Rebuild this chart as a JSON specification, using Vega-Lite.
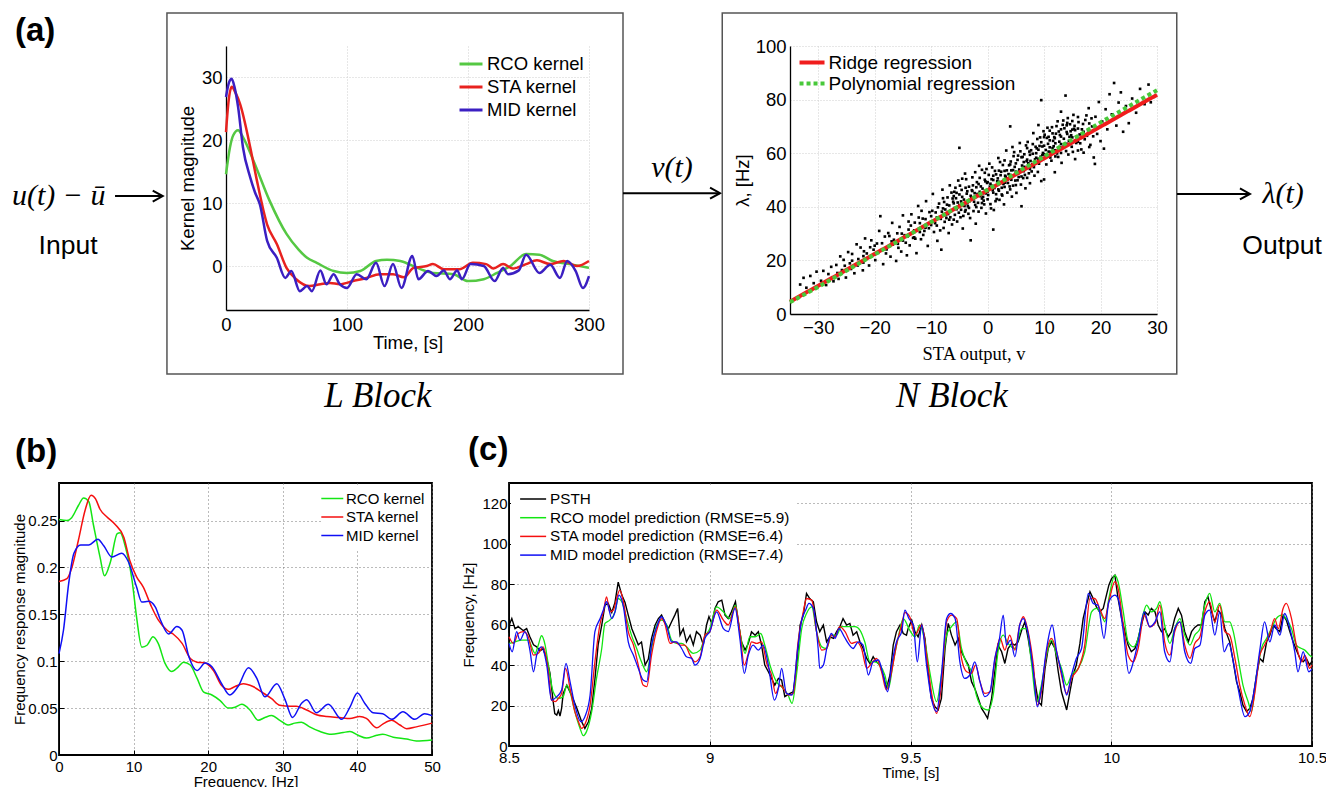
{
"$schema":"https://vega.github.io/schema/vega-lite/v6.json",
"background":"white",
"padding":{"left":0,"top":12,"right":0,"bottom":0},
"spacing":19,
"resolve":{"scale":{"x":"independent","y":"independent","color":"independent","strokeDash":"independent"},"legend":{"color":"independent","strokeDash":"independent"}},
"config":{
 "font":"Liberation Sans",
 "view":{"stroke":null},
 "axis":{"labelFont":"Liberation Sans","titleFont":"Liberation Sans","labelColor":"#000","titleColor":"#000","titleFontWeight":"normal","ticks":false,"labelFlush":false,"labelOverlap":false,"domainColor":"#000"},
 "legend":{"labelFont":"Liberation Sans","labelColor":"#000","labelLimit":500},
 "text":{"color":"#000"}
},
"datasets":{
 "lk":[
  {"k":"RCO","t":0,"m":14.6},{"k":"RCO","t":3.3,"m":18.9},{"k":"RCO","t":6,"m":20.8},{"k":"RCO","t":10,"m":21.6},{"k":"RCO","t":14,"m":20.5},{"k":"RCO","t":22.6,"m":16.8},{"k":"RCO","t":36,"m":10.4},{"k":"RCO","t":50,"m":5.1},{"k":"RCO","t":60,"m":2.6},{"k":"RCO","t":67,"m":1.3},{"k":"RCO","t":75,"m":0.5},{"k":"RCO","t":89,"m":-0.8},{"k":"RCO","t":100,"m":-1.1},{"k":"RCO","t":111,"m":-0.8},{"k":"RCO","t":124,"m":0.8},{"k":"RCO","t":133,"m":1.0},{"k":"RCO","t":144,"m":0.8},{"k":"RCO","t":158,"m":-0.3},{"k":"RCO","t":171,"m":-1.1},{"k":"RCO","t":188,"m":-1.3},{"k":"RCO","t":200,"m":-2.4},{"k":"RCO","t":213,"m":-2.1},{"k":"RCO","t":224,"m":-1.1},{"k":"RCO","t":235,"m":0},{"k":"RCO","t":248,"m":1.9},{"k":"RCO","t":259,"m":1.8},{"k":"RCO","t":270,"m":0.8},{"k":"RCO","t":284,"m":0.3},{"k":"RCO","t":300,"m":-0.3},
  {"k":"STA","t":0,"m":21.3},{"k":"STA","t":2,"m":26},{"k":"STA","t":4.7,"m":28.5},{"k":"STA","t":8,"m":27.5},{"k":"STA","t":11.6,"m":25.8},{"k":"STA","t":20,"m":18.9},{"k":"STA","t":25,"m":14.1},{"k":"STA","t":34,"m":6.6},{"k":"STA","t":42,"m":3.5},{"k":"STA","t":50,"m":-0.3},{"k":"STA","t":58,"m":-2.1},{"k":"STA","t":69,"m":-3.2},{"k":"STA","t":78,"m":-2.9},{"k":"STA","t":86,"m":-2.7},{"k":"STA","t":94,"m":-2.9},{"k":"STA","t":105,"m":-2.4},{"k":"STA","t":116,"m":-1.9},{"k":"STA","t":127,"m":-1.3},{"k":"STA","t":138,"m":-1.3},{"k":"STA","t":147,"m":-1.8},{"k":"STA","t":155,"m":-0.3},{"k":"STA","t":166,"m":0},{"k":"STA","t":171,"m":0.3},{"k":"STA","t":180,"m":-0.5},{"k":"STA","t":193,"m":-0.5},{"k":"STA","t":204,"m":0.5},{"k":"STA","t":215,"m":0.3},{"k":"STA","t":221,"m":-0.4},{"k":"STA","t":229,"m":0.3},{"k":"STA","t":237,"m":-0.4},{"k":"STA","t":248,"m":0.3},{"k":"STA","t":257,"m":0.9},{"k":"STA","t":268,"m":0.3},{"k":"STA","t":279,"m":0.8},{"k":"STA","t":290,"m":0},{"k":"STA","t":300,"m":0.8},
  {"k":"MID","t":0,"m":26.9},{"k":"MID","t":2.5,"m":29.2},{"k":"MID","t":4.7,"m":29.8},{"k":"MID","t":7,"m":28.5},{"k":"MID","t":10,"m":25.3},{"k":"MID","t":14,"m":18.9},{"k":"MID","t":20,"m":14.1},{"k":"MID","t":24,"m":11.7},{"k":"MID","t":28,"m":9.8},{"k":"MID","t":34,"m":4.0},{"k":"MID","t":42,"m":1.3},{"k":"MID","t":49,"m":-1.9},{"k":"MID","t":54,"m":-0.8},{"k":"MID","t":61,"m":-4.0},{"k":"MID","t":67,"m":-3.2},{"k":"MID","t":71,"m":-4.0},{"k":"MID","t":78,"m":-0.7},{"k":"MID","t":83,"m":-2.9},{"k":"MID","t":89,"m":-1.3},{"k":"MID","t":94,"m":-2.9},{"k":"MID","t":100,"m":-3.5},{"k":"MID","t":108,"m":-1.3},{"k":"MID","t":116,"m":-2.1},{"k":"MID","t":124,"m":0.5},{"k":"MID","t":131,"m":-3.2},{"k":"MID","t":138,"m":0.3},{"k":"MID","t":145,"m":-3.5},{"k":"MID","t":154,"m":1.6},{"k":"MID","t":159,"m":-2.1},{"k":"MID","t":167,"m":-0.8},{"k":"MID","t":174,"m":-1.6},{"k":"MID","t":180,"m":-0.7},{"k":"MID","t":185,"m":-2.1},{"k":"MID","t":191,"m":-0.7},{"k":"MID","t":195,"m":-2.1},{"k":"MID","t":202,"m":0.3},{"k":"MID","t":213,"m":0},{"k":"MID","t":222,"m":-2.4},{"k":"MID","t":229,"m":-0.3},{"k":"MID","t":233,"m":-1.3},{"k":"MID","t":242,"m":-0.7},{"k":"MID","t":248,"m":1.8},{"k":"MID","t":259,"m":-1.1},{"k":"MID","t":268,"m":0.2},{"k":"MID","t":276,"m":-1.9},{"k":"MID","t":282,"m":0.8},{"k":"MID","t":289,"m":-0.8},{"k":"MID","t":295,"m":-3.5},{"k":"MID","t":300,"m":-1.6}
 ],
 "sc":[
  {"v":-33.2,"r":11},{"v":-32.6,"r":13.5},{"v":-32.1,"r":9.8},{"v":-31.4,"r":14.2},{"v":-30.8,"r":11.5},{"v":-30.3,"r":15.8},{"v":-29.5,"r":12.4},{"v":-29.1,"r":16.1},{"v":-28.6,"r":10.8},{"v":-28.2,"r":14.9},{"v":-27.7,"r":17.6},{"v":-27.3,"r":12.2},{"v":-26.8,"r":18.3},{"v":-26.4,"r":13.1},{"v":-26.1,"r":21.5},{"v":-25.8,"r":16.4},{"v":-25.5,"r":20.2},{"v":-25.1,"r":13.6},{"v":-24.7,"r":23.1},{"v":-24.4,"r":18.9},{"v":-24.0,"r":22.4},{"v":-23.6,"r":15.2},{"v":-23.2,"r":26.0},{"v":-22.9,"r":20.5},{"v":-22.5,"r":24.8},{"v":-22.1,"r":16.3},{"v":-21.7,"r":28.2},{"v":-21.4,"r":22.6},{"v":-21.0,"r":18.1},{"v":-20.6,"r":27.5},{"v":-20.2,"r":24.0},{"v":-19.9,"r":20.1},{"v":-19.6,"r":26.3},{"v":-19.2,"r":31.0},{"v":-18.9,"r":23.7},{"v":-18.5,"r":18.6},{"v":-18.2,"r":28.9},{"v":-17.9,"r":24.1},{"v":-17.6,"r":30.2},{"v":-17.2,"r":21.4},{"v":-16.9,"r":34.0},{"v":-16.6,"r":27.7},{"v":-16.2,"r":19.8},{"v":-15.9,"r":26.2},{"v":-15.6,"r":32.5},{"v":-15.3,"r":23.3},{"v":-15.0,"r":36.8},{"v":-14.7,"r":29.4},{"v":-14.3,"r":21.9},{"v":-14.0,"r":31.5},{"v":-13.8,"r":25.6},{"v":-13.5,"r":37.2},{"v":-13.2,"r":28.4},{"v":-12.9,"r":34.1},{"v":-12.6,"r":22.7},{"v":-12.3,"r":40.3},{"v":-12.0,"r":30.6},{"v":-11.8,"r":27.9},{"v":-11.5,"r":35.6},{"v":-11.2,"r":31.0},{"v":-10.9,"r":42.1},{"v":-10.6,"r":25.4},{"v":-10.3,"r":38.0},{"v":-10.0,"r":33.2},{"v":-9.7,"r":44.8},{"v":-9.5,"r":30.6},{"v":-9.2,"r":37.9},{"v":-8.9,"r":27.3},{"v":-8.6,"r":41.2},{"v":-8.3,"r":35.5},{"v":-8.0,"r":46.4},{"v":-7.8,"r":32.1},{"v":-7.5,"r":39.0},{"v":-7.3,"r":35.8},{"v":-7.1,"r":43.5},{"v":-6.9,"r":30.2},{"v":-6.7,"r":48.0},{"v":-6.5,"r":38.7},{"v":-6.3,"r":33.4},{"v":-6.1,"r":41.9},{"v":-5.9,"r":45.6},{"v":-5.8,"r":37.0},{"v":-5.6,"r":43.2},{"v":-5.4,"r":34.5},{"v":-5.2,"r":49.8},{"v":-5.0,"r":40.6},{"v":-4.8,"r":36.1},{"v":-4.6,"r":46.3},{"v":-4.4,"r":31.9},{"v":-4.2,"r":42.7},{"v":-4.0,"r":52.4},{"v":-3.9,"r":38.8},{"v":-3.7,"r":44.9},{"v":-3.5,"r":40.2},{"v":-3.3,"r":47.5},{"v":-3.1,"r":35.8},{"v":-2.9,"r":43.6},{"v":-2.7,"r":51.0},{"v":-2.5,"r":38.4},{"v":-2.3,"r":45.1},{"v":-2.1,"r":33.7},{"v":-1.9,"r":49.2},{"v":-1.7,"r":41.5},{"v":-1.5,"r":55.3},{"v":-1.3,"r":44.0},{"v":-1.1,"r":39.6},{"v":-0.9,"r":46.8},{"v":-0.7,"r":42.3},{"v":-0.5,"r":52.7},{"v":-0.3,"r":37.5},{"v":-0.1,"r":48.9},{"v":0.1,"r":44.4},{"v":0.3,"r":56.1},{"v":0.5,"r":41.0},{"v":0.7,"r":50.3},{"v":0.9,"r":46.2},{"v":1.1,"r":38.8},{"v":1.3,"r":53.4},{"v":1.5,"r":44.7},{"v":1.7,"r":49.5},{"v":1.9,"r":58.2},{"v":2.1,"r":42.6},{"v":2.3,"r":51.8},{"v":2.5,"r":47.1},{"v":2.7,"r":55.6},{"v":2.9,"r":40.9},{"v":3.1,"r":49.0},{"v":3.3,"r":61.0},{"v":3.5,"r":45.3},{"v":3.7,"r":52.2},{"v":3.9,"r":47.6},{"v":4.1,"r":56.9},{"v":4.3,"r":43.8},{"v":4.5,"r":53.7},{"v":4.7,"r":60.4},{"v":4.9,"r":49.8},{"v":5.1,"r":45.2},{"v":5.3,"r":57.5},{"v":5.5,"r":51.1},{"v":5.7,"r":63.8},{"v":5.9,"r":48.3},{"v":6.1,"r":55.4},{"v":6.3,"r":50.7},{"v":6.5,"r":59.6},{"v":6.7,"r":46.9},{"v":6.9,"r":57.0},{"v":7.1,"r":64.2},{"v":7.3,"r":52.5},{"v":7.5,"r":48.8},{"v":7.7,"r":61.1},{"v":7.9,"r":55.9},{"v":8.1,"r":67.5},{"v":8.3,"r":51.6},{"v":8.6,"r":58.3},{"v":8.9,"r":53.0},{"v":9.2,"r":62.7},{"v":9.5,"r":49.6},{"v":9.8,"r":60.1},{"v":10.1,"r":66.9},{"v":10.4,"r":55.8},{"v":10.7,"r":63.5},{"v":11.0,"r":68.4},{"v":11.3,"r":57.2},{"v":11.6,"r":64.6},{"v":11.9,"r":52.9},{"v":12.2,"r":70.1},{"v":12.5,"r":61.3},{"v":12.8,"r":66.8},{"v":13.1,"r":56.4},{"v":13.4,"r":72.2},{"v":13.7,"r":63.0},{"v":14.0,"r":67.9},{"v":14.3,"r":59.5},{"v":14.6,"r":70.8},{"v":14.9,"r":62.4},{"v":15.2,"r":74.3},{"v":15.5,"r":57.8},{"v":15.8,"r":66.1},{"v":16.1,"r":71.6},{"v":16.4,"r":63.7},{"v":16.7,"r":68.9},{"v":9.0,"r":70.5},{"v":10.0,"r":50.2},{"v":12.0,"r":58.8},{"v":13.0,"r":75.5},{"v":15.0,"r":65.9},{"v":11.5,"r":61.9},{"v":10.5,"r":59.0},{"v":12.7,"r":64.3},{"v":17.0,"r":60.2},{"v":17.3,"r":72.4},{"v":17.6,"r":66.5},{"v":17.9,"r":76.8},{"v":18.2,"r":63.1},{"v":18.5,"r":70.0},{"v":18.8,"r":58.4},{"v":19.1,"r":73.6},{"v":19.4,"r":67.2},{"v":19.7,"r":79.1},{"v":20.0,"r":64.5},{"v":20.3,"r":71.8},{"v":20.6,"r":61.7},{"v":20.9,"r":76.4},{"v":21.2,"r":68.9},{"v":21.6,"r":82.0},{"v":22.0,"r":74.5},{"v":22.4,"r":86.2},{"v":22.8,"r":70.3},{"v":23.2,"r":78.9},{"v":23.6,"r":82.7},{"v":24.0,"r":68.0},{"v":24.5,"r":77.6},{"v":25.0,"r":71.2},{"v":25.6,"r":80.4},{"v":26.3,"r":75.1},{"v":27.0,"r":84.0},{"v":27.8,"r":78.3},{"v":28.5,"r":85.6},{"v":28.9,"r":79.0},{"v":-8.2,"r":24.0},{"v":-3.0,"r":27.5},{"v":9.5,"r":79.8},{"v":13.8,"r":81.5},{"v":-5.0,"r":62.0},{"v":-19.0,"r":36.5},{"v":6.0,"r":40.2},{"v":19.0,"r":56.0},{"v":4.0,"r":70.0},{"v":1.0,"r":31.5},
  {"v":-6.0,"r":44.0},{"v":-5.5,"r":39.1},{"v":-4.9,"r":47.9},{"v":-4.3,"r":36.6},{"v":-3.8,"r":50.3},{"v":-3.2,"r":42.1},{"v":-2.6,"r":48.0},{"v":-2.0,"r":39.9},{"v":-1.4,"r":50.8},{"v":-0.8,"r":43.7},{"v":-0.2,"r":54.1},{"v":0.4,"r":47.5},{"v":1.0,"r":51.6},{"v":1.6,"r":42.9},{"v":2.2,"r":56.7},{"v":2.8,"r":48.5},{"v":3.4,"r":53.6},{"v":4.0,"r":46.5},{"v":4.6,"r":58.9},{"v":5.2,"r":52.7},{"v":5.8,"r":60.7},{"v":6.4,"r":53.3},{"v":7.0,"r":61.9},{"v":7.6,"r":57.1},{"v":8.2,"r":54.8},{"v":8.8,"r":65.3},{"v":9.4,"r":58.7},{"v":10.0,"r":62.8},{"v":10.6,"r":69.5},{"v":11.2,"r":60.4},{"v":11.8,"r":66.0},{"v":12.4,"r":71.9},{"v":13.0,"r":63.4},{"v":13.6,"r":69.3},{"v":14.2,"r":73.1},{"v":14.8,"r":66.7},{"v":15.4,"r":70.2},{"v":16.0,"r":61.0},{"v":-7.7,"r":41.8},{"v":-9.0,"r":36.0},{"v":-10.4,"r":32.0},{"v":-11.7,"r":38.5},{"v":-13.0,"r":31.2},{"v":-14.5,"r":26.6},{"v":-16.0,"r":30.1},{"v":-17.5,"r":25.2},{"v":-20.0,"r":22.3},{"v":-22.0,"r":19.2},
  {"v":-9.8,"r":38.5},{"v":-9.3,"r":33.9},{"v":-8.8,"r":39.8},{"v":-8.4,"r":31.2},{"v":-7.9,"r":43.2},{"v":-7.4,"r":36.9},{"v":-6.8,"r":40.5},{"v":-6.4,"r":45.3},{"v":-6.0,"r":35.2},{"v":-5.7,"r":47.1},{"v":-5.3,"r":41.6},{"v":-4.7,"r":38.9},{"v":-4.5,"r":50.5},{"v":-4.1,"r":40.3},{"v":-3.6,"r":45.8},{"v":-3.4,"r":37.4},{"v":-2.8,"r":46.2},{"v":-2.4,"r":41.9},{"v":-2.2,"r":52.9},{"v":-1.8,"r":44.8},{"v":-1.6,"r":38.2},{"v":-1.2,"r":47.6},{"v":-1.0,"r":53.8},{"v":-0.6,"r":40.9},{"v":-0.4,"r":49.5},{"v":0.0,"r":45.7},{"v":0.2,"r":51.9},{"v":0.6,"r":39.4},{"v":0.8,"r":54.7},{"v":1.2,"r":47.0},{"v":1.4,"r":42.1},{"v":1.8,"r":50.6},{"v":2.0,"r":46.0},{"v":2.4,"r":53.1},{"v":2.6,"r":44.2},{"v":3.0,"r":57.3},{"v":3.2,"r":51.2},{"v":3.6,"r":48.9},{"v":3.8,"r":55.5},{"v":4.2,"r":50.1},{"v":4.4,"r":62.3},{"v":4.8,"r":54.9},{"v":5.0,"r":48.1},{"v":5.4,"r":59.1},{"v":5.6,"r":53.9},{"v":6.2,"r":58.6},{"v":6.6,"r":51.9},{"v":6.8,"r":62.9},{"v":7.2,"r":56.3},{"v":7.4,"r":60.6},{"v":7.8,"r":53.2},{"v":8.0,"r":63.4},{"v":8.4,"r":57.7},{"v":8.7,"r":61.8},{"v":9.1,"r":56.1},{"v":9.3,"r":65.9},{"v":9.7,"r":59.3},{"v":9.9,"r":68.2},{"v":10.3,"r":61.2},{"v":10.8,"r":66.1},{"v":11.1,"r":58.4},{"v":11.4,"r":69.7},{"v":11.7,"r":62.6},{"v":12.1,"r":67.3},{"v":12.3,"r":59.9},{"v":12.6,"r":68.1},{"v":12.9,"r":62.1},{"v":13.3,"r":70.6},{"v":13.5,"r":65.4},{"v":13.9,"r":60.8},{"v":14.1,"r":71.3},{"v":14.4,"r":64.6},{"v":14.7,"r":68.2},{"v":15.1,"r":60.5},{"v":15.3,"r":69.1},{"v":15.7,"r":63.8},{"v":16.0,"r":73.5},{"v":16.3,"r":67.0},{"v":16.6,"r":61.4},{"v":16.9,"r":70.9},{"v":17.2,"r":65.2},{"v":17.5,"r":74.1},{"v":17.8,"r":68.6},{"v":18.0,"r":62.3},{"v":18.4,"r":73.0},{"v":18.7,"r":66.3},{"v":-11.0,"r":35.4},{"v":-11.4,"r":29.5},{"v":-12.2,"r":36.0},{"v":-12.8,"r":28.1},{"v":-13.6,"r":33.0},{"v":-14.2,"r":28.9},{"v":-15.2,"r":30.0},{"v":-15.8,"r":24.7},{"v":-16.8,"r":25.9},{"v":-17.4,"r":29.1},{"v":-18.7,"r":26.4},{"v":-19.4,"r":22.8},{"v":-20.8,"r":24.9},{"v":-21.9,"r":23.4},{"v":-23.0,"r":18.1},{"v":-24.2,"r":16.8},{"v":-25.3,"r":18.0},{"v":-26.6,"r":15.3},
  {"v":-8.1,"r":38.2},{"v":-7.6,"r":34.4},{"v":-7.2,"r":40.8},{"v":-6.6,"r":36.1},{"v":-6.2,"r":43.1},{"v":-5.5,"r":45.2},{"v":-5.1,"r":37.8},{"v":-4.5,"r":43.7},{"v":-3.9,"r":47.1},{"v":-3.3,"r":39.6},{"v":-2.7,"r":45.9},{"v":-2.2,"r":40.7},{"v":-1.6,"r":48.5},{"v":-1.0,"r":43.1},{"v":-0.5,"r":50.1},{"v":0.0,"r":42.8},{"v":0.5,"r":48.6},{"v":1.0,"r":45.3},{"v":1.5,"r":52.1},{"v":2.0,"r":49.3},{"v":2.5,"r":44.6},{"v":3.0,"r":53.4},{"v":3.5,"r":50.2},{"v":4.0,"r":55.8},{"v":4.5,"r":47.9},{"v":5.0,"r":56.2},{"v":5.5,"r":52.6},{"v":6.0,"r":58.5},{"v":6.5,"r":54.9},{"v":7.0,"r":50.8},{"v":7.5,"r":59.4},{"v":8.0,"r":55.7},{"v":8.5,"r":62.4},{"v":9.0,"r":57.9},{"v":9.5,"r":64.1},{"v":10.0,"r":59.6},{"v":10.5,"r":65.7},{"v":11.0,"r":62.2},{"v":11.5,"r":67.4},{"v":12.0,"r":63.7},{"v":12.5,"r":58.6},{"v":13.0,"r":68.9},{"v":13.5,"r":62.7},{"v":14.0,"r":70.4},{"v":14.5,"r":66.1},{"v":15.0,"r":72.0},{"v":15.5,"r":68.6},{"v":16.0,"r":64.3},
  {"v":-7.9,"r":39.4},{"v":-7.0,"r":37.3},{"v":-6.0,"r":41.3},{"v":-5.0,"r":44.6},{"v":-4.0,"r":38.2},{"v":-3.0,"r":44.1},{"v":-2.0,"r":47.3},{"v":-1.0,"r":41.4},{"v":0.0,"r":49.2},{"v":1.0,"r":50.0},{"v":2.0,"r":53.5},{"v":3.0,"r":47.4},{"v":4.0,"r":51.9},{"v":5.0,"r":53.1},{"v":6.0,"r":51.3},{"v":7.0,"r":57.6},{"v":8.0,"r":59.8},{"v":9.0,"r":61.3},{"v":10.0,"r":66.0},{"v":11.0,"r":64.8},{"v":12.0,"r":61.1},{"v":13.0,"r":66.2},{"v":14.0,"r":63.5},{"v":15.0,"r":68.8},{"v":16.0,"r":69.2},{"v":17.0,"r":68.0},{"v":18.0,"r":71.1},{"v":-9.0,"r":33.0},{"v":-10.0,"r":36.5},{"v":-11.0,"r":32.2},{"v":-12.0,"r":33.9},{"v":-13.0,"r":28.6},{"v":-14.0,"r":34.5},{"v":-15.0,"r":27.4},{"v":-16.0,"r":26.8},{"v":-17.0,"r":27.1},{"v":-18.0,"r":22.6},{"v":-20.0,"r":25.5},{"v":-22.0,"r":21.6},{"v":-24.0,"r":19.9},
  {"v":-6.8,"r":35.2},{"v":-5.9,"r":39.5},{"v":-4.7,"r":42.0},{"v":-3.6,"r":41.3},{"v":-2.5,"r":43.0},{"v":-1.4,"r":45.6},{"v":-0.3,"r":45.0},{"v":0.8,"r":47.8},{"v":1.9,"r":46.5},{"v":3.1,"r":51.6},{"v":4.2,"r":53.6},{"v":5.3,"r":49.9},{"v":6.4,"r":56.7},{"v":7.5,"r":54.1},{"v":8.6,"r":60.0},{"v":9.7,"r":62.5},{"v":10.8,"r":60.6},{"v":11.9,"r":65.6},{"v":13.0,"r":60.1},{"v":14.1,"r":67.2}
 ],
 "rg":[
  {"m":"Ridge regression","v":-35,"r":4.6},{"m":"Ridge regression","v":30,"r":81.8},
  {"m":"Polynomial regression","v":-35,"r":4.4},{"m":"Polynomial regression","v":-30,"r":10.1},{"m":"Polynomial regression","v":-20,"r":22.2},{"m":"Polynomial regression","v":-10,"r":34.3},{"m":"Polynomial regression","v":0,"r":46.4},{"m":"Polynomial regression","v":10,"r":58.8},{"m":"Polynomial regression","v":20,"r":71.5},{"m":"Polynomial regression","v":30,"r":83.5}
 ],
 "fr":[
  {"k":"RCO","f":0,"a":0.251},{"k":"RCO","f":1.07,"a":0.25},{"k":"RCO","f":1.7,"a":0.253},{"k":"RCO","f":2.6,"a":0.266},{"k":"RCO","f":3.3,"a":0.274},{"k":"RCO","f":4,"a":0.27},{"k":"RCO","f":4.6,"a":0.246},{"k":"RCO","f":5.5,"a":0.211},{"k":"RCO","f":6.1,"a":0.191},{"k":"RCO","f":6.9,"a":0.206},{"k":"RCO","f":7.8,"a":0.236},{"k":"RCO","f":8.2,"a":0.237},{"k":"RCO","f":8.9,"a":0.222},{"k":"RCO","f":9.8,"a":0.186},{"k":"RCO","f":10.4,"a":0.147},{"k":"RCO","f":11.1,"a":0.115},{"k":"RCO","f":11.8,"a":0.117},{"k":"RCO","f":12.6,"a":0.126},{"k":"RCO","f":13.3,"a":0.119},{"k":"RCO","f":14.2,"a":0.098},{"k":"RCO","f":15.1,"a":0.089},{"k":"RCO","f":16,"a":0.094},{"k":"RCO","f":16.7,"a":0.099},{"k":"RCO","f":17.6,"a":0.096},{"k":"RCO","f":18.5,"a":0.082},{"k":"RCO","f":19.4,"a":0.067},{"k":"RCO","f":20.5,"a":0.064},{"k":"RCO","f":21.6,"a":0.058},{"k":"RCO","f":22.7,"a":0.05},{"k":"RCO","f":23.6,"a":0.051},{"k":"RCO","f":24.5,"a":0.054},{"k":"RCO","f":25.6,"a":0.048},{"k":"RCO","f":26.7,"a":0.037},{"k":"RCO","f":27.6,"a":0.04},{"k":"RCO","f":28.5,"a":0.042},{"k":"RCO","f":29.6,"a":0.037},{"k":"RCO","f":30.7,"a":0.032},{"k":"RCO","f":31.6,"a":0.034},{"k":"RCO","f":32.5,"a":0.035},{"k":"RCO","f":33.6,"a":0.03},{"k":"RCO","f":35,"a":0.025},{"k":"RCO","f":36.5,"a":0.022},{"k":"RCO","f":38.1,"a":0.024},{"k":"RCO","f":39,"a":0.025},{"k":"RCO","f":40.1,"a":0.021},{"k":"RCO","f":41.2,"a":0.018},{"k":"RCO","f":42.6,"a":0.021},{"k":"RCO","f":43.4,"a":0.022},{"k":"RCO","f":44.8,"a":0.019},{"k":"RCO","f":46.6,"a":0.017},{"k":"RCO","f":47.9,"a":0.015},{"k":"RCO","f":50,"a":0.016},
  {"k":"STA","f":0,"a":0.185},{"k":"STA","f":1.07,"a":0.188},{"k":"STA","f":1.7,"a":0.199},{"k":"STA","f":2.6,"a":0.229},{"k":"STA","f":3.5,"a":0.261},{"k":"STA","f":4.3,"a":0.277},{"k":"STA","f":4.9,"a":0.273},{"k":"STA","f":5.5,"a":0.262},{"k":"STA","f":6.4,"a":0.254},{"k":"STA","f":7.5,"a":0.246},{"k":"STA","f":8.7,"a":0.232},{"k":"STA","f":9.5,"a":0.207},{"k":"STA","f":10.4,"a":0.19},{"k":"STA","f":11.3,"a":0.179},{"k":"STA","f":12.4,"a":0.158},{"k":"STA","f":13.3,"a":0.144},{"k":"STA","f":14.5,"a":0.133},{"k":"STA","f":15.3,"a":0.129},{"k":"STA","f":16.5,"a":0.119},{"k":"STA","f":17.6,"a":0.103},{"k":"STA","f":18.5,"a":0.099},{"k":"STA","f":19.6,"a":0.098},{"k":"STA","f":20.7,"a":0.09},{"k":"STA","f":21.8,"a":0.074},{"k":"STA","f":22.7,"a":0.07},{"k":"STA","f":23.6,"a":0.073},{"k":"STA","f":24.7,"a":0.076},{"k":"STA","f":26,"a":0.073},{"k":"STA","f":27.4,"a":0.066},{"k":"STA","f":28.5,"a":0.06},{"k":"STA","f":29.6,"a":0.053},{"k":"STA","f":31,"a":0.052},{"k":"STA","f":31.8,"a":0.052},{"k":"STA","f":33.2,"a":0.048},{"k":"STA","f":34.5,"a":0.043},{"k":"STA","f":35.9,"a":0.041},{"k":"STA","f":37.6,"a":0.04},{"k":"STA","f":39,"a":0.039},{"k":"STA","f":40.3,"a":0.041},{"k":"STA","f":41.2,"a":0.039},{"k":"STA","f":42.6,"a":0.029},{"k":"STA","f":43.4,"a":0.033},{"k":"STA","f":44.6,"a":0.037},{"k":"STA","f":45.7,"a":0.032},{"k":"STA","f":46.6,"a":0.028},{"k":"STA","f":47.9,"a":0.03},{"k":"STA","f":50,"a":0.034},
  {"k":"MID","f":0,"a":0.108},{"k":"MID","f":0.6,"a":0.133},{"k":"MID","f":1.3,"a":0.183},{"k":"MID","f":2,"a":0.215},{"k":"MID","f":2.9,"a":0.224},{"k":"MID","f":4,"a":0.224},{"k":"MID","f":5.2,"a":0.23},{"k":"MID","f":6,"a":0.223},{"k":"MID","f":7.1,"a":0.211},{"k":"MID","f":8.4,"a":0.215},{"k":"MID","f":9.3,"a":0.206},{"k":"MID","f":10.4,"a":0.179},{"k":"MID","f":11.1,"a":0.163},{"k":"MID","f":12,"a":0.164},{"k":"MID","f":12.9,"a":0.158},{"k":"MID","f":13.6,"a":0.144},{"k":"MID","f":14.7,"a":0.129},{"k":"MID","f":15.8,"a":0.137},{"k":"MID","f":16.5,"a":0.133},{"k":"MID","f":17.4,"a":0.105},{"k":"MID","f":18.5,"a":0.09},{"k":"MID","f":19.6,"a":0.098},{"k":"MID","f":20.5,"a":0.094},{"k":"MID","f":21.8,"a":0.076},{"k":"MID","f":22.9,"a":0.064},{"k":"MID","f":24,"a":0.073},{"k":"MID","f":25.4,"a":0.093},{"k":"MID","f":26.5,"a":0.082},{"k":"MID","f":27.6,"a":0.062},{"k":"MID","f":29.2,"a":0.076},{"k":"MID","f":30.3,"a":0.059},{"k":"MID","f":31.3,"a":0.04},{"k":"MID","f":32.5,"a":0.055},{"k":"MID","f":33.2,"a":0.059},{"k":"MID","f":34.5,"a":0.045},{"k":"MID","f":36.1,"a":0.054},{"k":"MID","f":37.9,"a":0.038},{"k":"MID","f":39,"a":0.051},{"k":"MID","f":40,"a":0.066},{"k":"MID","f":41,"a":0.055},{"k":"MID","f":42.1,"a":0.045},{"k":"MID","f":43.4,"a":0.044},{"k":"MID","f":44.6,"a":0.038},{"k":"MID","f":46.1,"a":0.046},{"k":"MID","f":47.7,"a":0.038},{"k":"MID","f":49,"a":0.044},{"k":"MID","f":50,"a":0.042}
 ],
 "ts":[
  {"s":"PSTH","t":8.500,"h":56},{"s":"PSTH","t":8.502,"h":60.6},{"s":"PSTH","t":8.507,"h":63},{"s":"PSTH","t":8.515,"h":58},{"s":"PSTH","t":8.523,"h":59},{"s":"PSTH","t":8.536,"h":57},{"s":"PSTH","t":8.544,"h":58},{"s":"PSTH","t":8.552,"h":54},{"s":"PSTH","t":8.561,"h":50},{"s":"PSTH","t":8.569,"h":49},{"s":"PSTH","t":8.577,"h":47},{"s":"PSTH","t":8.585,"h":48},{"s":"PSTH","t":8.594,"h":43},{"s":"PSTH","t":8.602,"h":36},{"s":"PSTH","t":8.610,"h":22},{"s":"PSTH","t":8.614,"h":16},{"s":"PSTH","t":8.619,"h":15.3},{"s":"PSTH","t":8.623,"h":17.5},{"s":"PSTH","t":8.627,"h":14.8},{"s":"PSTH","t":8.631,"h":18.6},{"s":"PSTH","t":8.635,"h":26},{"s":"PSTH","t":8.644,"h":30.1},{"s":"PSTH","t":8.656,"h":25},{"s":"PSTH","t":8.669,"h":18.6},{"s":"PSTH","t":8.681,"h":12},{"s":"PSTH","t":8.689,"h":8.7},{"s":"PSTH","t":8.698,"h":12},{"s":"PSTH","t":8.706,"h":18.6},{"s":"PSTH","t":8.714,"h":33},{"s":"PSTH","t":8.722,"h":50},{"s":"PSTH","t":8.731,"h":59.8},{"s":"PSTH","t":8.739,"h":69.6},{"s":"PSTH","t":8.747,"h":70.5},{"s":"PSTH","t":8.756,"h":66},{"s":"PSTH","t":8.764,"h":71},{"s":"PSTH","t":8.772,"h":81},{"s":"PSTH","t":8.781,"h":74.6},{"s":"PSTH","t":8.789,"h":71},{"s":"PSTH","t":8.797,"h":64.7},{"s":"PSTH","t":8.806,"h":58},{"s":"PSTH","t":8.814,"h":54},{"s":"PSTH","t":8.822,"h":50},{"s":"PSTH","t":8.830,"h":51.4},{"s":"PSTH","t":8.839,"h":40},{"s":"PSTH","t":8.847,"h":43},{"s":"PSTH","t":8.855,"h":53.2},{"s":"PSTH","t":8.864,"h":59.8},{"s":"PSTH","t":8.872,"h":63},{"s":"PSTH","t":8.880,"h":64.7},{"s":"PSTH","t":8.889,"h":60.6},{"s":"PSTH","t":8.897,"h":58},{"s":"PSTH","t":8.905,"h":61.4},{"s":"PSTH","t":8.913,"h":64.7},{"s":"PSTH","t":8.920,"h":68},{"s":"PSTH","t":8.926,"h":54.8},{"s":"PSTH","t":8.934,"h":58},{"s":"PSTH","t":8.942,"h":51.5},{"s":"PSTH","t":8.951,"h":54.8},{"s":"PSTH","t":8.959,"h":50},{"s":"PSTH","t":8.967,"h":56.5},{"s":"PSTH","t":8.976,"h":54.8},{"s":"PSTH","t":8.984,"h":50},{"s":"PSTH","t":8.992,"h":59.8},{"s":"PSTH","t":8.998,"h":64},
  {"s":"PSTH","t":9.005,"h":60.6},{"s":"PSTH","t":9.013,"h":68},{"s":"PSTH","t":9.021,"h":71.3},{"s":"PSTH","t":9.030,"h":72.1},{"s":"PSTH","t":9.038,"h":64.7},{"s":"PSTH","t":9.046,"h":63},{"s":"PSTH","t":9.054,"h":66.3},{"s":"PSTH","t":9.064,"h":71.3},{"s":"PSTH","t":9.071,"h":61.4},{"s":"PSTH","t":9.079,"h":51.5},{"s":"PSTH","t":9.088,"h":47.4},{"s":"PSTH","t":9.096,"h":50.7},{"s":"PSTH","t":9.104,"h":56.5},{"s":"PSTH","t":9.113,"h":54.8},{"s":"PSTH","t":9.121,"h":56.5},{"s":"PSTH","t":9.129,"h":49.9},{"s":"PSTH","t":9.137,"h":40},{"s":"PSTH","t":9.146,"h":36.7},{"s":"PSTH","t":9.154,"h":33.4},{"s":"PSTH","t":9.162,"h":30.1},{"s":"PSTH","t":9.171,"h":33.4},{"s":"PSTH","t":9.179,"h":32.6},{"s":"PSTH","t":9.187,"h":24.4},{"s":"PSTH","t":9.200,"h":26},{"s":"PSTH","t":9.208,"h":26.8},{"s":"PSTH","t":9.216,"h":38.4},{"s":"PSTH","t":9.225,"h":59.8},{"s":"PSTH","t":9.233,"h":64.7},{"s":"PSTH","t":9.241,"h":75.4},{"s":"PSTH","t":9.249,"h":72.9},{"s":"PSTH","t":9.258,"h":71.3},{"s":"PSTH","t":9.266,"h":61.4},{"s":"PSTH","t":9.274,"h":56.5},{"s":"PSTH","t":9.283,"h":59.8},{"s":"PSTH","t":9.291,"h":51.5},{"s":"PSTH","t":9.299,"h":54},{"s":"PSTH","t":9.308,"h":53.2},{"s":"PSTH","t":9.316,"h":56.5},{"s":"PSTH","t":9.324,"h":59},{"s":"PSTH","t":9.332,"h":63},{"s":"PSTH","t":9.341,"h":59.8},{"s":"PSTH","t":9.349,"h":60.6},{"s":"PSTH","t":9.357,"h":54.8},{"s":"PSTH","t":9.366,"h":56.5},{"s":"PSTH","t":9.374,"h":51.5},{"s":"PSTH","t":9.382,"h":48.2},{"s":"PSTH","t":9.391,"h":43.3},{"s":"PSTH","t":9.399,"h":40.8},{"s":"PSTH","t":9.407,"h":44.1},{"s":"PSTH","t":9.415,"h":41.6},{"s":"PSTH","t":9.424,"h":40},{"s":"PSTH","t":9.432,"h":35.1},{"s":"PSTH","t":9.440,"h":28.5},{"s":"PSTH","t":9.449,"h":35.1},{"s":"PSTH","t":9.457,"h":49.9},{"s":"PSTH","t":9.465,"h":56.5},{"s":"PSTH","t":9.474,"h":59.8},{"s":"PSTH","t":9.482,"h":55.6},{"s":"PSTH","t":9.490,"h":54.8},
  {"s":"PSTH","t":9.494,"h":58},{"s":"PSTH","t":9.503,"h":62.2},{"s":"PSTH","t":9.511,"h":56.5},{"s":"PSTH","t":9.519,"h":54},{"s":"PSTH","t":9.528,"h":59.8},{"s":"PSTH","t":9.536,"h":53.2},{"s":"PSTH","t":9.544,"h":36.7},{"s":"PSTH","t":9.552,"h":23.5},{"s":"PSTH","t":9.561,"h":19.4},{"s":"PSTH","t":9.569,"h":17.8},{"s":"PSTH","t":9.577,"h":23.5},{"s":"PSTH","t":9.586,"h":48.2},{"s":"PSTH","t":9.594,"h":60.6},{"s":"PSTH","t":9.602,"h":54.8},{"s":"PSTH","t":9.611,"h":49.9},{"s":"PSTH","t":9.619,"h":53.2},{"s":"PSTH","t":9.627,"h":46.6},{"s":"PSTH","t":9.635,"h":43.3},{"s":"PSTH","t":9.644,"h":40},{"s":"PSTH","t":9.652,"h":31.8},{"s":"PSTH","t":9.660,"h":28.5},{"s":"PSTH","t":9.669,"h":23.5},{"s":"PSTH","t":9.677,"h":18.6},{"s":"PSTH","t":9.685,"h":16.1},{"s":"PSTH","t":9.692,"h":13.7},{"s":"PSTH","t":9.702,"h":23.5},{"s":"PSTH","t":9.710,"h":36.7},{"s":"PSTH","t":9.718,"h":49.9},{"s":"PSTH","t":9.727,"h":46.6},{"s":"PSTH","t":9.735,"h":40.8},{"s":"PSTH","t":9.743,"h":48.2},{"s":"PSTH","t":9.752,"h":50.7},{"s":"PSTH","t":9.760,"h":49.9},{"s":"PSTH","t":9.768,"h":51.5},{"s":"PSTH","t":9.777,"h":57.3},{"s":"PSTH","t":9.785,"h":61.4},{"s":"PSTH","t":9.793,"h":53.2},{"s":"PSTH","t":9.801,"h":43.3},{"s":"PSTH","t":9.810,"h":31.8},{"s":"PSTH","t":9.818,"h":21.9},{"s":"PSTH","t":9.826,"h":20.2},{"s":"PSTH","t":9.835,"h":38.4},{"s":"PSTH","t":9.843,"h":48.2},{"s":"PSTH","t":9.851,"h":51.5},{"s":"PSTH","t":9.860,"h":48.2},{"s":"PSTH","t":9.868,"h":36.7},{"s":"PSTH","t":9.876,"h":26.8},{"s":"PSTH","t":9.889,"h":17.8},{"s":"PSTH","t":9.897,"h":26.8},{"s":"PSTH","t":9.905,"h":35.1},{"s":"PSTH","t":9.913,"h":40},{"s":"PSTH","t":9.922,"h":50.7},{"s":"PSTH","t":9.930,"h":63},{"s":"PSTH","t":9.938,"h":69.6},{"s":"PSTH","t":9.947,"h":76.2},{"s":"PSTH","t":9.955,"h":72.9},{"s":"PSTH","t":9.963,"h":68.8},{"s":"PSTH","t":9.971,"h":66.3},{"s":"PSTH","t":9.980,"h":68},{"s":"PSTH","t":9.988,"h":74.6},{"s":"PSTH","t":9.994,"h":79.5},
  {"s":"PSTH","t":10.001,"h":82.8},{"s":"PSTH","t":10.009,"h":84.4},{"s":"PSTH","t":10.017,"h":72.9},{"s":"PSTH","t":10.026,"h":63},{"s":"PSTH","t":10.034,"h":56.5},{"s":"PSTH","t":10.042,"h":49.9},{"s":"PSTH","t":10.050,"h":46.6},{"s":"PSTH","t":10.059,"h":48.2},{"s":"PSTH","t":10.067,"h":53.2},{"s":"PSTH","t":10.075,"h":59.8},{"s":"PSTH","t":10.084,"h":66.3},{"s":"PSTH","t":10.092,"h":64.7},{"s":"PSTH","t":10.100,"h":68},{"s":"PSTH","t":10.109,"h":66.3},{"s":"PSTH","t":10.117,"h":59.8},{"s":"PSTH","t":10.125,"h":56.5},{"s":"PSTH","t":10.133,"h":58},{"s":"PSTH","t":10.142,"h":54},{"s":"PSTH","t":10.150,"h":56.5},{"s":"PSTH","t":10.158,"h":63},{"s":"PSTH","t":10.167,"h":68},{"s":"PSTH","t":10.175,"h":64.7},{"s":"PSTH","t":10.183,"h":56.5},{"s":"PSTH","t":10.192,"h":51.5},{"s":"PSTH","t":10.200,"h":56.5},{"s":"PSTH","t":10.208,"h":58.6},{"s":"PSTH","t":10.216,"h":59.8},{"s":"PSTH","t":10.225,"h":59.8},{"s":"PSTH","t":10.233,"h":71.3},{"s":"PSTH","t":10.241,"h":73.7},{"s":"PSTH","t":10.250,"h":66.3},{"s":"PSTH","t":10.258,"h":61.4},{"s":"PSTH","t":10.266,"h":67.2},{"s":"PSTH","t":10.275,"h":64.7},{"s":"PSTH","t":10.283,"h":58},{"s":"PSTH","t":10.295,"h":51.5},{"s":"PSTH","t":10.304,"h":41.6},{"s":"PSTH","t":10.312,"h":31.8},{"s":"PSTH","t":10.320,"h":26.8},{"s":"PSTH","t":10.328,"h":20.2},{"s":"PSTH","t":10.337,"h":17},{"s":"PSTH","t":10.345,"h":18.6},{"s":"PSTH","t":10.353,"h":23.5},{"s":"PSTH","t":10.362,"h":35.1},{"s":"PSTH","t":10.370,"h":43.3},{"s":"PSTH","t":10.378,"h":41.6},{"s":"PSTH","t":10.387,"h":51.5},{"s":"PSTH","t":10.395,"h":54.8},{"s":"PSTH","t":10.403,"h":59.8},{"s":"PSTH","t":10.411,"h":58},{"s":"PSTH","t":10.420,"h":56.5},{"s":"PSTH","t":10.428,"h":64.7},{"s":"PSTH","t":10.436,"h":62.2},{"s":"PSTH","t":10.445,"h":56.5},{"s":"PSTH","t":10.453,"h":51.5},{"s":"PSTH","t":10.461,"h":47.4},{"s":"PSTH","t":10.470,"h":43.3},{"s":"PSTH","t":10.478,"h":41.6},{"s":"PSTH","t":10.486,"h":43.3},{"s":"PSTH","t":10.494,"h":40},{"s":"PSTH","t":10.500,"h":42},
  {"s":"RCO","t":8.500,"h":50.7},{"s":"RCO","t":8.515,"h":51.5},{"s":"RCO","t":8.532,"h":52.3},{"s":"RCO","t":8.548,"h":52.3},{"s":"RCO","t":8.565,"h":45.8},{"s":"RCO","t":8.573,"h":49.9},{"s":"RCO","t":8.581,"h":54.5},{"s":"RCO","t":8.590,"h":49.9},{"s":"RCO","t":8.598,"h":40},{"s":"RCO","t":8.610,"h":26.8},{"s":"RCO","t":8.623,"h":23.5},{"s":"RCO","t":8.635,"h":24.4},{"s":"RCO","t":8.644,"h":30.1},{"s":"RCO","t":8.652,"h":26.8},{"s":"RCO","t":8.664,"h":17},{"s":"RCO","t":8.677,"h":8.7},{"s":"RCO","t":8.685,"h":5.1},{"s":"RCO","t":8.693,"h":7.1},{"s":"RCO","t":8.706,"h":17},{"s":"RCO","t":8.718,"h":33.4},{"s":"RCO","t":8.731,"h":48.2},{"s":"RCO","t":8.739,"h":60.6},{"s":"RCO","t":8.751,"h":62.2},{"s":"RCO","t":8.764,"h":66.3},{"s":"RCO","t":8.772,"h":72.9},{"s":"RCO","t":8.781,"h":71.3},{"s":"RCO","t":8.793,"h":63},{"s":"RCO","t":8.805,"h":54.8},{"s":"RCO","t":8.818,"h":48.2},{"s":"RCO","t":8.830,"h":41.6},{"s":"RCO","t":8.843,"h":36.7},{"s":"RCO","t":8.855,"h":48.2},{"s":"RCO","t":8.868,"h":59.8},{"s":"RCO","t":8.880,"h":62.2},{"s":"RCO","t":8.893,"h":59.8},{"s":"RCO","t":8.905,"h":52.3},{"s":"RCO","t":8.917,"h":50.7},{"s":"RCO","t":8.930,"h":50.7},{"s":"RCO","t":8.942,"h":49},{"s":"RCO","t":8.959,"h":45.8},{"s":"RCO","t":8.976,"h":47.4},{"s":"RCO","t":8.988,"h":54},
  {"s":"RCO","t":9.000,"h":58},{"s":"RCO","t":9.017,"h":68.8},{"s":"RCO","t":9.034,"h":66.3},{"s":"RCO","t":9.050,"h":63},{"s":"RCO","t":9.064,"h":69.6},{"s":"RCO","t":9.075,"h":56.5},{"s":"RCO","t":9.088,"h":45.8},{"s":"RCO","t":9.100,"h":54},{"s":"RCO","t":9.113,"h":54},{"s":"RCO","t":9.127,"h":55.6},{"s":"RCO","t":9.137,"h":49.9},{"s":"RCO","t":9.150,"h":40},{"s":"RCO","t":9.166,"h":31.8},{"s":"RCO","t":9.183,"h":28.5},{"s":"RCO","t":9.195,"h":25.2},{"s":"RCO","t":9.205,"h":21.1},{"s":"RCO","t":9.216,"h":35.1},{"s":"RCO","t":9.229,"h":58},{"s":"RCO","t":9.241,"h":65.5},{"s":"RCO","t":9.254,"h":68.8},{"s":"RCO","t":9.266,"h":56.5},{"s":"RCO","t":9.279,"h":49},{"s":"RCO","t":9.291,"h":48.2},{"s":"RCO","t":9.303,"h":54.8},{"s":"RCO","t":9.316,"h":54.8},{"s":"RCO","t":9.328,"h":59},{"s":"RCO","t":9.345,"h":59},{"s":"RCO","t":9.362,"h":59},{"s":"RCO","t":9.374,"h":57.3},{"s":"RCO","t":9.386,"h":51.5},{"s":"RCO","t":9.399,"h":41.6},{"s":"RCO","t":9.411,"h":41.6},{"s":"RCO","t":9.424,"h":40},{"s":"RCO","t":9.436,"h":35.1},{"s":"RCO","t":9.445,"h":28.5},{"s":"RCO","t":9.457,"h":41.6},{"s":"RCO","t":9.469,"h":53.2},{"s":"RCO","t":9.482,"h":63},
  {"s":"RCO","t":9.498,"h":57.3},{"s":"RCO","t":9.511,"h":54},{"s":"RCO","t":9.523,"h":59.8},{"s":"RCO","t":9.536,"h":51.5},{"s":"RCO","t":9.548,"h":36.7},{"s":"RCO","t":9.565,"h":21.9},{"s":"RCO","t":9.577,"h":35.1},{"s":"RCO","t":9.590,"h":54.8},{"s":"RCO","t":9.602,"h":59},{"s":"RCO","t":9.615,"h":61.4},{"s":"RCO","t":9.627,"h":48.2},{"s":"RCO","t":9.640,"h":40.8},{"s":"RCO","t":9.652,"h":36.7},{"s":"RCO","t":9.664,"h":25.2},{"s":"RCO","t":9.681,"h":18.6},{"s":"RCO","t":9.694,"h":17.8},{"s":"RCO","t":9.706,"h":25.2},{"s":"RCO","t":9.718,"h":46.6},{"s":"RCO","t":9.731,"h":54.8},{"s":"RCO","t":9.743,"h":50.7},{"s":"RCO","t":9.760,"h":48.2},{"s":"RCO","t":9.777,"h":58},{"s":"RCO","t":9.789,"h":58},{"s":"RCO","t":9.801,"h":41.6},{"s":"RCO","t":9.814,"h":21.9},{"s":"RCO","t":9.826,"h":30.1},{"s":"RCO","t":9.839,"h":44.9},{"s":"RCO","t":9.851,"h":52.3},{"s":"RCO","t":9.864,"h":44.9},{"s":"RCO","t":9.876,"h":38.4},{"s":"RCO","t":9.889,"h":30.1},{"s":"RCO","t":9.901,"h":35.1},{"s":"RCO","t":9.918,"h":38.4},{"s":"RCO","t":9.934,"h":46.6},{"s":"RCO","t":9.951,"h":66.3},{"s":"RCO","t":9.963,"h":68},{"s":"RCO","t":9.976,"h":64.7},{"s":"RCO","t":9.984,"h":61.4},{"s":"RCO","t":9.994,"h":72.9},
  {"s":"RCO","t":10.009,"h":84.4},{"s":"RCO","t":10.017,"h":81.2},{"s":"RCO","t":10.030,"h":66.3},{"s":"RCO","t":10.042,"h":51.5},{"s":"RCO","t":10.055,"h":49},{"s":"RCO","t":10.067,"h":53.2},{"s":"RCO","t":10.079,"h":64.7},{"s":"RCO","t":10.088,"h":69.6},{"s":"RCO","t":10.100,"h":66.3},{"s":"RCO","t":10.113,"h":68},{"s":"RCO","t":10.121,"h":71.3},{"s":"RCO","t":10.133,"h":59.8},{"s":"RCO","t":10.146,"h":50.7},{"s":"RCO","t":10.158,"h":58},{"s":"RCO","t":10.171,"h":63},{"s":"RCO","t":10.183,"h":54.8},{"s":"RCO","t":10.196,"h":49.9},{"s":"RCO","t":10.208,"h":54.8},{"s":"RCO","t":10.221,"h":58},{"s":"RCO","t":10.233,"h":69.6},{"s":"RCO","t":10.245,"h":75.4},{"s":"RCO","t":10.258,"h":66.3},{"s":"RCO","t":10.270,"h":70.5},{"s":"RCO","t":10.283,"h":61.4},{"s":"RCO","t":10.295,"h":61.4},{"s":"RCO","t":10.304,"h":56.5},{"s":"RCO","t":10.316,"h":43.3},{"s":"RCO","t":10.328,"h":30.1},{"s":"RCO","t":10.341,"h":21.9},{"s":"RCO","t":10.349,"h":17},{"s":"RCO","t":10.362,"h":35.1},{"s":"RCO","t":10.374,"h":48.2},{"s":"RCO","t":10.387,"h":53.2},{"s":"RCO","t":10.399,"h":58},{"s":"RCO","t":10.411,"h":63},{"s":"RCO","t":10.424,"h":64.7},{"s":"RCO","t":10.436,"h":63},{"s":"RCO","t":10.449,"h":58},{"s":"RCO","t":10.461,"h":49.9},{"s":"RCO","t":10.474,"h":48.2},{"s":"RCO","t":10.482,"h":47.4},{"s":"RCO","t":10.494,"h":44.9},{"s":"RCO","t":10.500,"h":44},
  {"s":"STA","t":8.500,"h":54},{"s":"STA","t":8.511,"h":50.7},{"s":"STA","t":8.523,"h":55.6},{"s":"STA","t":8.536,"h":56.5},{"s":"STA","t":8.548,"h":54},{"s":"STA","t":8.561,"h":44.9},{"s":"STA","t":8.573,"h":45.8},{"s":"STA","t":8.585,"h":49},{"s":"STA","t":8.598,"h":36.7},{"s":"STA","t":8.606,"h":22.7},{"s":"STA","t":8.615,"h":21.9},{"s":"STA","t":8.623,"h":23.5},{"s":"STA","t":8.631,"h":26},{"s":"STA","t":8.641,"h":38.4},{"s":"STA","t":8.652,"h":28.5},{"s":"STA","t":8.664,"h":17},{"s":"STA","t":8.673,"h":12},{"s":"STA","t":8.681,"h":8.7},{"s":"STA","t":8.689,"h":10.7},{"s":"STA","t":8.702,"h":20.2},{"s":"STA","t":8.714,"h":41.6},{"s":"STA","t":8.727,"h":60.6},{"s":"STA","t":8.735,"h":66.3},{"s":"STA","t":8.743,"h":73.7},{"s":"STA","t":8.751,"h":66.3},{"s":"STA","t":8.760,"h":67.2},{"s":"STA","t":8.768,"h":72.9},{"s":"STA","t":8.776,"h":77},{"s":"STA","t":8.785,"h":71.3},{"s":"STA","t":8.797,"h":56.5},{"s":"STA","t":8.810,"h":49.9},{"s":"STA","t":8.822,"h":40},{"s":"STA","t":8.834,"h":30.1},{"s":"STA","t":8.843,"h":29.3},{"s":"STA","t":8.855,"h":44.9},{"s":"STA","t":8.868,"h":57.3},{"s":"STA","t":8.880,"h":63},{"s":"STA","t":8.888,"h":60.6},{"s":"STA","t":8.901,"h":50.7},{"s":"STA","t":8.913,"h":51.5},{"s":"STA","t":8.926,"h":49.9},{"s":"STA","t":8.938,"h":49.9},{"s":"STA","t":8.951,"h":44.9},{"s":"STA","t":8.963,"h":41.6},{"s":"STA","t":8.976,"h":44.1},{"s":"STA","t":8.988,"h":54.8},
  {"s":"STA","t":9.000,"h":56.5},{"s":"STA","t":9.017,"h":67.2},{"s":"STA","t":9.034,"h":62.2},{"s":"STA","t":9.046,"h":59.8},{"s":"STA","t":9.064,"h":68.8},{"s":"STA","t":9.075,"h":56.5},{"s":"STA","t":9.086,"h":40},{"s":"STA","t":9.096,"h":45.8},{"s":"STA","t":9.104,"h":51.5},{"s":"STA","t":9.117,"h":50.7},{"s":"STA","t":9.129,"h":51.5},{"s":"STA","t":9.142,"h":40.8},{"s":"STA","t":9.154,"h":35.1},{"s":"STA","t":9.164,"h":26},{"s":"STA","t":9.175,"h":30.1},{"s":"STA","t":9.186,"h":27.7},{"s":"STA","t":9.196,"h":25.2},{"s":"STA","t":9.208,"h":26},{"s":"STA","t":9.220,"h":51.5},{"s":"STA","t":9.233,"h":66.3},{"s":"STA","t":9.241,"h":72.9},{"s":"STA","t":9.254,"h":72.1},{"s":"STA","t":9.266,"h":56.5},{"s":"STA","t":9.279,"h":47.4},{"s":"STA","t":9.291,"h":48.2},{"s":"STA","t":9.303,"h":54.8},{"s":"STA","t":9.312,"h":54},{"s":"STA","t":9.324,"h":59},{"s":"STA","t":9.337,"h":56.5},{"s":"STA","t":9.353,"h":50.7},{"s":"STA","t":9.366,"h":51.5},{"s":"STA","t":9.378,"h":48.2},{"s":"STA","t":9.391,"h":38.4},{"s":"STA","t":9.403,"h":40.8},{"s":"STA","t":9.415,"h":43.3},{"s":"STA","t":9.428,"h":36.7},{"s":"STA","t":9.440,"h":27.7},{"s":"STA","t":9.453,"h":36.7},{"s":"STA","t":9.465,"h":49.9},{"s":"STA","t":9.478,"h":59.8},{"s":"STA","t":9.486,"h":66},
  {"s":"STA","t":9.498,"h":63.9},{"s":"STA","t":9.511,"h":54.8},{"s":"STA","t":9.528,"h":59.8},{"s":"STA","t":9.540,"h":44.9},{"s":"STA","t":9.552,"h":26.8},{"s":"STA","t":9.565,"h":16.1},{"s":"STA","t":9.577,"h":30.1},{"s":"STA","t":9.590,"h":61.4},{"s":"STA","t":9.602,"h":64.7},{"s":"STA","t":9.615,"h":63},{"s":"STA","t":9.627,"h":43.3},{"s":"STA","t":9.640,"h":36.7},{"s":"STA","t":9.652,"h":35.9},{"s":"STA","t":9.662,"h":40},{"s":"STA","t":9.673,"h":31.8},{"s":"STA","t":9.685,"h":26},{"s":"STA","t":9.698,"h":26.8},{"s":"STA","t":9.710,"h":42.5},{"s":"STA","t":9.723,"h":53.2},{"s":"STA","t":9.735,"h":47.4},{"s":"STA","t":9.747,"h":54.8},{"s":"STA","t":9.760,"h":47.4},{"s":"STA","t":9.772,"h":59.8},{"s":"STA","t":9.781,"h":63.9},{"s":"STA","t":9.793,"h":56.5},{"s":"STA","t":9.806,"h":40},{"s":"STA","t":9.816,"h":20.2},{"s":"STA","t":9.826,"h":26.8},{"s":"STA","t":9.839,"h":46.6},{"s":"STA","t":9.851,"h":53.2},{"s":"STA","t":9.864,"h":46.6},{"s":"STA","t":9.876,"h":35.1},{"s":"STA","t":9.889,"h":26},{"s":"STA","t":9.901,"h":33.4},{"s":"STA","t":9.918,"h":38.4},{"s":"STA","t":9.934,"h":49.9},{"s":"STA","t":9.947,"h":72.9},{"s":"STA","t":9.959,"h":72.9},{"s":"STA","t":9.971,"h":68},{"s":"STA","t":9.984,"h":63},{"s":"STA","t":9.994,"h":71.3},
  {"s":"STA","t":10.009,"h":81.2},{"s":"STA","t":10.017,"h":77.9},{"s":"STA","t":10.030,"h":59.8},{"s":"STA","t":10.042,"h":44.9},{"s":"STA","t":10.055,"h":41.6},{"s":"STA","t":10.067,"h":48.2},{"s":"STA","t":10.082,"h":64.7},{"s":"STA","t":10.096,"h":58.9},{"s":"STA","t":10.109,"h":60.6},{"s":"STA","t":10.121,"h":69.6},{"s":"STA","t":10.133,"h":51.5},{"s":"STA","t":10.146,"h":44.9},{"s":"STA","t":10.158,"h":56.5},{"s":"STA","t":10.171,"h":61.4},{"s":"STA","t":10.183,"h":49.9},{"s":"STA","t":10.196,"h":43.3},{"s":"STA","t":10.208,"h":50.7},{"s":"STA","t":10.221,"h":54},{"s":"STA","t":10.233,"h":66.3},{"s":"STA","t":10.245,"h":71.3},{"s":"STA","t":10.258,"h":61.4},{"s":"STA","t":10.270,"h":69.6},{"s":"STA","t":10.283,"h":56.5},{"s":"STA","t":10.295,"h":54.8},{"s":"STA","t":10.308,"h":43.3},{"s":"STA","t":10.320,"h":30.1},{"s":"STA","t":10.333,"h":20.2},{"s":"STA","t":10.345,"h":14.5},{"s":"STA","t":10.358,"h":26.8},{"s":"STA","t":10.370,"h":44.9},{"s":"STA","t":10.382,"h":49.9},{"s":"STA","t":10.395,"h":55.6},{"s":"STA","t":10.407,"h":63},{"s":"STA","t":10.416,"h":58},{"s":"STA","t":10.428,"h":68},{"s":"STA","t":10.436,"h":70.5},{"s":"STA","t":10.449,"h":63},{"s":"STA","t":10.461,"h":49.9},{"s":"STA","t":10.474,"h":41.6},{"s":"STA","t":10.482,"h":44.9},{"s":"STA","t":10.494,"h":38.4},{"s":"STA","t":10.500,"h":40},
  {"s":"MID","t":8.500,"h":50.7},{"s":"MID","t":8.508,"h":46.6},{"s":"MID","t":8.519,"h":56.5},{"s":"MID","t":8.527,"h":52.3},{"s":"MID","t":8.540,"h":56.5},{"s":"MID","t":8.552,"h":47.4},{"s":"MID","t":8.561,"h":36.7},{"s":"MID","t":8.569,"h":44.9},{"s":"MID","t":8.581,"h":49},{"s":"MID","t":8.594,"h":40},{"s":"MID","t":8.606,"h":22.7},{"s":"MID","t":8.619,"h":24.4},{"s":"MID","t":8.631,"h":27.7},{"s":"MID","t":8.642,"h":40.8},{"s":"MID","t":8.652,"h":31.8},{"s":"MID","t":8.664,"h":20.2},{"s":"MID","t":8.679,"h":12},{"s":"MID","t":8.689,"h":14.5},{"s":"MID","t":8.702,"h":25.2},{"s":"MID","t":8.714,"h":56.5},{"s":"MID","t":8.727,"h":63},{"s":"MID","t":8.735,"h":67.2},{"s":"MID","t":8.743,"h":71.3},{"s":"MID","t":8.756,"h":63},{"s":"MID","t":8.764,"h":66.3},{"s":"MID","t":8.774,"h":74.6},{"s":"MID","t":8.785,"h":68.8},{"s":"MID","t":8.797,"h":51.5},{"s":"MID","t":8.810,"h":44.9},{"s":"MID","t":8.822,"h":38.4},{"s":"MID","t":8.834,"h":32.6},{"s":"MID","t":8.843,"h":31.8},{"s":"MID","t":8.855,"h":49.9},{"s":"MID","t":8.868,"h":59},{"s":"MID","t":8.880,"h":63.9},{"s":"MID","t":8.893,"h":59},{"s":"MID","t":8.905,"h":51.5},{"s":"MID","t":8.917,"h":51.5},{"s":"MID","t":8.930,"h":48.2},{"s":"MID","t":8.942,"h":44.1},{"s":"MID","t":8.955,"h":43.3},{"s":"MID","t":8.963,"h":40},{"s":"MID","t":8.976,"h":43.3},{"s":"MID","t":8.988,"h":53.2},
  {"s":"MID","t":9.000,"h":56.5},{"s":"MID","t":9.017,"h":66.3},{"s":"MID","t":9.034,"h":58},{"s":"MID","t":9.046,"h":56.5},{"s":"MID","t":9.063,"h":68},{"s":"MID","t":9.075,"h":53.2},{"s":"MID","t":9.086,"h":35.9},{"s":"MID","t":9.096,"h":44.9},{"s":"MID","t":9.108,"h":49.9},{"s":"MID","t":9.121,"h":47.4},{"s":"MID","t":9.133,"h":49.9},{"s":"MID","t":9.146,"h":40},{"s":"MID","t":9.161,"h":22.7},{"s":"MID","t":9.171,"h":28.5},{"s":"MID","t":9.179,"h":38.4},{"s":"MID","t":9.191,"h":26},{"s":"MID","t":9.205,"h":25.2},{"s":"MID","t":9.219,"h":48.2},{"s":"MID","t":9.229,"h":62.2},{"s":"MID","t":9.239,"h":67.2},{"s":"MID","t":9.247,"h":70.5},{"s":"MID","t":9.258,"h":68},{"s":"MID","t":9.270,"h":48.2},{"s":"MID","t":9.274,"h":38.4},{"s":"MID","t":9.283,"h":40},{"s":"MID","t":9.293,"h":49.9},{"s":"MID","t":9.303,"h":55.6},{"s":"MID","t":9.312,"h":53.2},{"s":"MID","t":9.322,"h":58},{"s":"MID","t":9.335,"h":54},{"s":"MID","t":9.345,"h":50.7},{"s":"MID","t":9.357,"h":48.2},{"s":"MID","t":9.370,"h":51.5},{"s":"MID","t":9.382,"h":49.9},{"s":"MID","t":9.395,"h":35.1},{"s":"MID","t":9.407,"h":41.6},{"s":"MID","t":9.420,"h":42.5},{"s":"MID","t":9.432,"h":35.1},{"s":"MID","t":9.443,"h":26.8},{"s":"MID","t":9.453,"h":40},{"s":"MID","t":9.465,"h":51.5},{"s":"MID","t":9.478,"h":56.5},{"s":"MID","t":9.486,"h":67.2},
  {"s":"MID","t":9.496,"h":63},{"s":"MID","t":9.507,"h":59.8},{"s":"MID","t":9.517,"h":41.6},{"s":"MID","t":9.528,"h":59.8},{"s":"MID","t":9.540,"h":40},{"s":"MID","t":9.552,"h":23.5},{"s":"MID","t":9.565,"h":17},{"s":"MID","t":9.577,"h":35.1},{"s":"MID","t":9.590,"h":63},{"s":"MID","t":9.600,"h":65.5},{"s":"MID","t":9.611,"h":63},{"s":"MID","t":9.623,"h":41.6},{"s":"MID","t":9.635,"h":33.4},{"s":"MID","t":9.648,"h":35.1},{"s":"MID","t":9.660,"h":41.6},{"s":"MID","t":9.673,"h":31.8},{"s":"MID","t":9.685,"h":24.4},{"s":"MID","t":9.698,"h":26.8},{"s":"MID","t":9.710,"h":43.3},{"s":"MID","t":9.721,"h":52.3},{"s":"MID","t":9.731,"h":64.7},{"s":"MID","t":9.739,"h":49.9},{"s":"MID","t":9.749,"h":52.3},{"s":"MID","t":9.760,"h":44.1},{"s":"MID","t":9.772,"h":59.8},{"s":"MID","t":9.781,"h":63},{"s":"MID","t":9.793,"h":55.6},{"s":"MID","t":9.806,"h":36.7},{"s":"MID","t":9.816,"h":19.4},{"s":"MID","t":9.826,"h":28.5},{"s":"MID","t":9.839,"h":48.2},{"s":"MID","t":9.853,"h":59.8},{"s":"MID","t":9.864,"h":46.6},{"s":"MID","t":9.876,"h":36.7},{"s":"MID","t":9.889,"h":25.2},{"s":"MID","t":9.901,"h":35.1},{"s":"MID","t":9.913,"h":43.3},{"s":"MID","t":9.926,"h":48.2},{"s":"MID","t":9.943,"h":75.4},{"s":"MID","t":9.955,"h":70.5},{"s":"MID","t":9.967,"h":69.6},{"s":"MID","t":9.982,"h":53.2},{"s":"MID","t":9.994,"h":71.3},
  {"s":"MID","t":10.009,"h":74.6},{"s":"MID","t":10.017,"h":72.9},{"s":"MID","t":10.030,"h":56.5},{"s":"MID","t":10.044,"h":35.9},{"s":"MID","t":10.055,"h":41.6},{"s":"MID","t":10.067,"h":51.5},{"s":"MID","t":10.082,"h":66.3},{"s":"MID","t":10.096,"h":58.9},{"s":"MID","t":10.109,"h":61.4},{"s":"MID","t":10.121,"h":66.3},{"s":"MID","t":10.133,"h":46.6},{"s":"MID","t":10.146,"h":41.6},{"s":"MID","t":10.158,"h":58},{"s":"MID","t":10.171,"h":61.4},{"s":"MID","t":10.183,"h":46.6},{"s":"MID","t":10.198,"h":40.8},{"s":"MID","t":10.208,"h":48.2},{"s":"MID","t":10.221,"h":49.9},{"s":"MID","t":10.233,"h":64.7},{"s":"MID","t":10.245,"h":67.2},{"s":"MID","t":10.258,"h":54.8},{"s":"MID","t":10.270,"h":66.3},{"s":"MID","t":10.281,"h":46.6},{"s":"MID","t":10.293,"h":50.7},{"s":"MID","t":10.304,"h":41.6},{"s":"MID","t":10.316,"h":28.5},{"s":"MID","t":10.333,"h":14.5},{"s":"MID","t":10.345,"h":17},{"s":"MID","t":10.358,"h":30.1},{"s":"MID","t":10.370,"h":47.4},{"s":"MID","t":10.382,"h":61.4},{"s":"MID","t":10.395,"h":51.5},{"s":"MID","t":10.407,"h":59.8},{"s":"MID","t":10.420,"h":54.8},{"s":"MID","t":10.432,"h":65.5},{"s":"MID","t":10.445,"h":58},{"s":"MID","t":10.457,"h":46.6},{"s":"MID","t":10.465,"h":36.7},{"s":"MID","t":10.478,"h":46.6},{"s":"MID","t":10.492,"h":36.7},{"s":"MID","t":10.500,"h":38}
 ]
},
"vconcat":[
 {
  "hconcat":[
   {
    "width":226,"height":268,
    "encoding":{"x":{"field":"x","type":"quantitative","scale":{"domain":[0,1],"nice":false,"zero":false},"axis":null},"y":{"field":"y","type":"quantitative","scale":{"domain":[0,1],"nice":false,"zero":false},"axis":null}},
    "layer":[
     {"data":{"values":[{"x":0.066,"y":1.056,"t":"(a)"}]},"mark":{"type":"text","align":"left","baseline":"middle","fontSize":33,"fontWeight":"bold","font":"Liberation Sans"},"encoding":{"text":{"field":"t","type":"nominal"}}},
     {"data":{"values":[{"x":0.053,"y":0.44,"t":"u(t) − ū"}]},"mark":{"type":"text","align":"left","baseline":"middle","fontSize":30,"fontStyle":"italic","font":"Liberation Serif"},"encoding":{"text":{"field":"t","type":"nominal"}}},
     {"data":{"values":[{"x":0.301,"y":0.254,"t":"Input"}]},"mark":{"type":"text","align":"center","baseline":"middle","fontSize":26.5,"font":"Liberation Sans"},"encoding":{"text":{"field":"t","type":"nominal"}}},
     {"data":{"values":[{"x":0.509,"x2":0.718,"y":0.44}]},"mark":{"type":"rule","strokeWidth":2,"color":"#000"},"encoding":{"x2":{"field":"x2"}}},
     {"data":{"values":[{"x":0.72,"y":0.44}]},"mark":{"type":"point","shape":"M-1,-0.55L0,0L-1,0.55","filled":false,"size":400,"strokeWidth":2,"color":"#000","opacity":1}}
    ]
   },
   {
    "width":363,"height":264,
    "encoding":{
     "x":{"field":"t","type":"quantitative","scale":{"domain":[0,300],"nice":false,"zero":false},"axis":{"values":[0,100,200,300],"title":"Time, [s]","labelFontSize":18.5,"titleFontSize":18.5,"labelPadding":5,"titlePadding":0,"grid":true,"gridColor":"#cfcfcf","gridDash":[1,2],"domain":true,"domainWidth":1.3}},
     "y":{"field":"m","type":"quantitative","scale":{"domain":[-7,35],"nice":false,"zero":false},"axis":{"values":[0,10,20,30],"title":"Kernel magnitude","labelFontSize":18.5,"titleFontSize":18.5,"labelPadding":4,"titlePadding":4,"grid":true,"gridColor":"#cfcfcf","gridDash":[1,2],"domain":true,"domainWidth":1.3}}
    },
    "layer":[
     {"data":{"values":[{"t":-48.8,"t2":328.1,"m":-17.18,"m2":40.25}]},"mark":{"type":"rect","fill":"transparent","stroke":"#555","strokeWidth":1.5},"encoding":{"x2":{"field":"t2"},"y2":{"field":"m2"}}},
     {"data":{"name":"lk"},"mark":{"type":"line","strokeWidth":2.5,"interpolate":"monotone"},
      "encoding":{"color":{"field":"k","type":"nominal","scale":{"domain":["RCO","STA","MID"],"range":["#55c843","#e8221f","#3b1fc2"]},"legend":{"title":null,"orient":"top-right","offset":0,"padding":5,"labelFontSize":18.5,"symbolType":"stroke","symbolSize":529,"symbolStrokeWidth":3,"rowPadding":0,"labelOffset":3,"labelExpr":"datum.value + ' kernel'"}}}},
     {"data":{"values":[{"t":125.6,"m":-20.68,"w":"L Block"}]},"mark":{"type":"text","font":"Liberation Serif","fontStyle":"italic","fontSize":35,"align":"center","baseline":"middle"},"encoding":{"text":{"field":"w","type":"nominal"}}}
    ]
   },
   {
    "width":201,"height":268,
    "encoding":{"x":{"field":"x","type":"quantitative","scale":{"domain":[0,1],"nice":false,"zero":false},"axis":null},"y":{"field":"y","type":"quantitative","scale":{"domain":[0,1],"nice":false,"zero":false},"axis":null}},
    "layer":[
     {"data":{"values":[{"x":0.413,"y":0.545,"t":"v(t)"}]},"mark":{"type":"text","align":"center","baseline":"middle","fontSize":30,"fontStyle":"italic","font":"Liberation Serif"},"encoding":{"text":{"field":"t","type":"nominal"}}},
     {"data":{"values":[{"x":0.169,"x2":0.65,"y":0.451}]},"mark":{"type":"rule","strokeWidth":2,"color":"#000"},"encoding":{"x2":{"field":"x2"}}},
     {"data":{"values":[{"x":0.652,"y":0.451}]},"mark":{"type":"point","shape":"M-1,-0.55L0,0L-1,0.55","filled":false,"size":400,"strokeWidth":2,"color":"#000","opacity":1}}
    ]
   },
   {
    "width":367,"height":268,
    "encoding":{
     "x":{"field":"v","type":"quantitative","scale":{"domain":[-35,30],"nice":false,"zero":false},"axis":{"values":[-30,-20,-10,0,10,20,30],"title":"STA output, v","titleFont":"Liberation Serif","labelFontSize":18.5,"titleFontSize":18.5,"labelPadding":4,"titlePadding":8,"grid":true,"gridColor":"#cfcfcf","gridDash":[1,2],"domain":true,"domainWidth":1.3}},
     "y":{"field":"r","type":"quantitative","scale":{"domain":[0,100],"nice":false,"zero":false},"axis":{"values":[0,20,40,60,80,100],"title":"λ, [Hz]","labelFontSize":18.5,"titleFontSize":18.5,"labelPadding":4,"titlePadding":3,"grid":true,"gridColor":"#cfcfcf","gridDash":[1,2],"domain":true,"domainWidth":1.3}}
    },
    "layer":[
     {"data":{"values":[{"v":-47.0,"v2":33.5,"r":-22.4,"r2":112.3}]},"mark":{"type":"rect","fill":"transparent","stroke":"#555","strokeWidth":1.5},"encoding":{"x2":{"field":"v2"},"y2":{"field":"r2"}}},
     {"data":{"name":"sc"},"mark":{"type":"square","size":7,"color":"#000","opacity":1}},
     {"data":{"name":"rg"},"mark":{"type":"line","strokeWidth":4},
      "encoding":{
       "color":{"field":"m","type":"nominal","scale":{"domain":["Ridge regression","Polynomial regression"],"range":["#f01d1d","#48c83a"]},"legend":{"title":null,"orient":"top-left","offset":1.5,"padding":4,"labelFontSize":19,"symbolType":"M-0.82,0L2.12,0","symbolSize":289,"symbolStrokeWidth":4,"rowPadding":0,"labelOffset":11.5}},
       "strokeDash":{"field":"m","type":"nominal","scale":{"domain":["Ridge regression","Polynomial regression"],"range":[[1,0],[4,3]]},"legend":{"title":null,"orient":"top-left","offset":1.5,"padding":4,"labelFontSize":19,"symbolType":"M-0.82,0L2.12,0","symbolSize":289,"symbolStrokeWidth":4,"rowPadding":0,"labelOffset":11.5}}
      }},
     {"data":{"values":[{"v":-6.31,"r":-30.6,"w":"N Block"}]},"mark":{"type":"text","font":"Liberation Serif","fontStyle":"italic","fontSize":35,"align":"center","baseline":"middle"},"encoding":{"text":{"field":"w","type":"nominal"}}}
    ]
   },
   {
    "width":169,"height":268,
    "encoding":{"x":{"field":"x","type":"quantitative","scale":{"domain":[0,1],"nice":false,"zero":false},"axis":null},"y":{"field":"y","type":"quantitative","scale":{"domain":[0,1],"nice":false,"zero":false},"axis":null}},
    "layer":[
     {"data":{"values":[{"x":0.118,"x2":0.548,"y":0.448}]},"mark":{"type":"rule","strokeWidth":2,"color":"#000"},"encoding":{"x2":{"field":"x2"}}},
     {"data":{"values":[{"x":0.55,"y":0.448}]},"mark":{"type":"point","shape":"M-1,-0.55L0,0L-1,0.55","filled":false,"size":400,"strokeWidth":2,"color":"#000","opacity":1}},
     {"data":{"values":[{"x":0.746,"y":0.448,"t":"λ(t)"}]},"mark":{"type":"text","align":"center","baseline":"middle","fontSize":30,"fontStyle":"italic","font":"Liberation Serif"},"encoding":{"text":{"field":"t","type":"nominal"}}},
     {"data":{"values":[{"x":0.74,"y":0.254,"t":"Output"}]},"mark":{"type":"text","align":"center","baseline":"middle","fontSize":26.5,"font":"Liberation Sans"},"encoding":{"text":{"field":"t","type":"nominal"}}}
    ]
   }
  ],
  "spacing":0,
  "bounds":"flush",
  "resolve":{"scale":{"x":"independent","y":"independent","color":"independent","strokeDash":"independent"},"legend":{"color":"independent","strokeDash":"independent"}}
 },
 {
  "hconcat":[
   {
    "width":59,"height":272,
    "data":{"values":[{"x":0.254,"y":1.114,"t":"(b)"}]},
    "mark":{"type":"text","align":"left","baseline":"middle","fontSize":33,"fontWeight":"bold","font":"Liberation Sans"},
    "encoding":{"x":{"field":"x","type":"quantitative","scale":{"domain":[0,1],"nice":false,"zero":false},"axis":null},"y":{"field":"y","type":"quantitative","scale":{"domain":[0,1],"nice":false,"zero":false},"axis":null},"text":{"field":"t","type":"nominal"}}
   },
   {
    "width":373,"height":272,
    "view":{"stroke":"#000","strokeWidth":1.8},
    "data":{"name":"fr"},
    "mark":{"type":"line","strokeWidth":1.5,"interpolate":"monotone"},
    "encoding":{
     "x":{"field":"f","type":"quantitative","scale":{"domain":[0,50],"nice":false,"zero":false},"axis":{"values":[0,10,20,30,40,50],"title":"Frequency, [Hz]","labelFontSize":15,"titleFontSize":15,"ticks":true,"tickSize":-5,"tickColor":"#000","labelPadding":9.5,"titlePadding":0,"grid":true,"gridColor":"#777","gridDash":[1,3]}},
     "y":{"field":"a","type":"quantitative","scale":{"domain":[0,0.29],"nice":false,"zero":false},"axis":{"values":[0,0.05,0.1,0.15,0.2,0.25],"format":"~g","title":"Frequency response magnitude","labelFontSize":15,"titleFontSize":15,"ticks":true,"tickSize":-5,"tickColor":"#000","labelPadding":7,"titlePadding":0,"grid":true,"gridColor":"#777","gridDash":[1,3]}},
     "color":{"field":"k","type":"nominal","scale":{"domain":["RCO","STA","MID"],"range":["#14e614","#f50f0f","#0f0ff5"]},"legend":{"title":null,"orient":"top-right","offset":2,"padding":5,"fillColor":"white","labelFontSize":15,"symbolType":"M-1.76,0L1.17,0","symbolSize":225,"symbolStrokeWidth":1.5,"rowPadding":1.5,"labelOffset":3,"labelExpr":"datum.value + ' kernel'"}}
    }
   },
   {
    "width":77,"height":263,
    "data":{"values":[{"x":0.468,"y":1.125,"t":"(c)"}]},
    "mark":{"type":"text","align":"left","baseline":"middle","fontSize":33,"fontWeight":"bold","font":"Liberation Sans"},
    "encoding":{"x":{"field":"x","type":"quantitative","scale":{"domain":[0,1],"nice":false,"zero":false},"axis":null},"y":{"field":"y","type":"quantitative","scale":{"domain":[0,1],"nice":false,"zero":false},"axis":null},"text":{"field":"t","type":"nominal"}}
   },
   {
    "width":803,"height":263,
    "view":{"stroke":"#000","strokeWidth":1.8},
    "data":{"name":"ts"},
    "encoding":{
     "x":{"field":"t","type":"quantitative","scale":{"domain":[8.5,10.5],"nice":false,"zero":false},"axis":{"values":[8.5,9,9.5,10,10.5],"format":"~g","title":"Time, [s]","labelFontSize":15,"titleFontSize":15,"ticks":true,"tickSize":-5,"tickColor":"#000","labelPadding":9.5,"titlePadding":0,"grid":true,"gridColor":"#777","gridDash":[1,3]}},
     "y":{"field":"h","type":"quantitative","scale":{"domain":[0,130],"nice":false,"zero":false},"axis":{"values":[0,20,40,60,80,100,120],"title":"Frequency, [Hz]","labelFontSize":15,"titleFontSize":15,"ticks":true,"tickSize":-5,"tickColor":"#000","labelPadding":7,"titlePadding":5.5,"grid":true,"gridColor":"#777","gridDash":[1,3]}},
     "color":{"field":"s","type":"nominal","scale":{"domain":["PSTH","RCO","STA","MID"],"range":["#000000","#12e612","#f50f0f","#0f0ff5"]},"legend":{"title":null,"orient":"top-left","offset":2,"padding":5,"fillColor":"white","labelFontSize":15.3,"symbolType":"M-0.6,0L2.6,0","symbolSize":264,"symbolStrokeWidth":1.5,"rowPadding":0.7,"labelOffset":16,"labelExpr":"datum.value == 'PSTH' ? 'PSTH' : datum.value == 'RCO' ? 'RCO model prediction (RMSE=5.9)' : datum.value == 'STA' ? 'STA model prediction (RMSE=6.4)' : 'MID model prediction (RMSE=7.4)'"}}
    },
    "layer":[
     {"transform":[{"filter":"datum.s == 'PSTH'"}],"mark":{"type":"line","strokeWidth":1.4},"encoding":{}},
     {"transform":[{"filter":"datum.s != 'PSTH'"}],"mark":{"type":"line","strokeWidth":1.3,"interpolate":"monotone"},"encoding":{}}
    ]
   }
  ],
  "spacing":0,
  "bounds":"flush",
  "resolve":{"scale":{"x":"independent","y":"independent","color":"independent"},"legend":{"color":"independent"}}
 }
]
}
